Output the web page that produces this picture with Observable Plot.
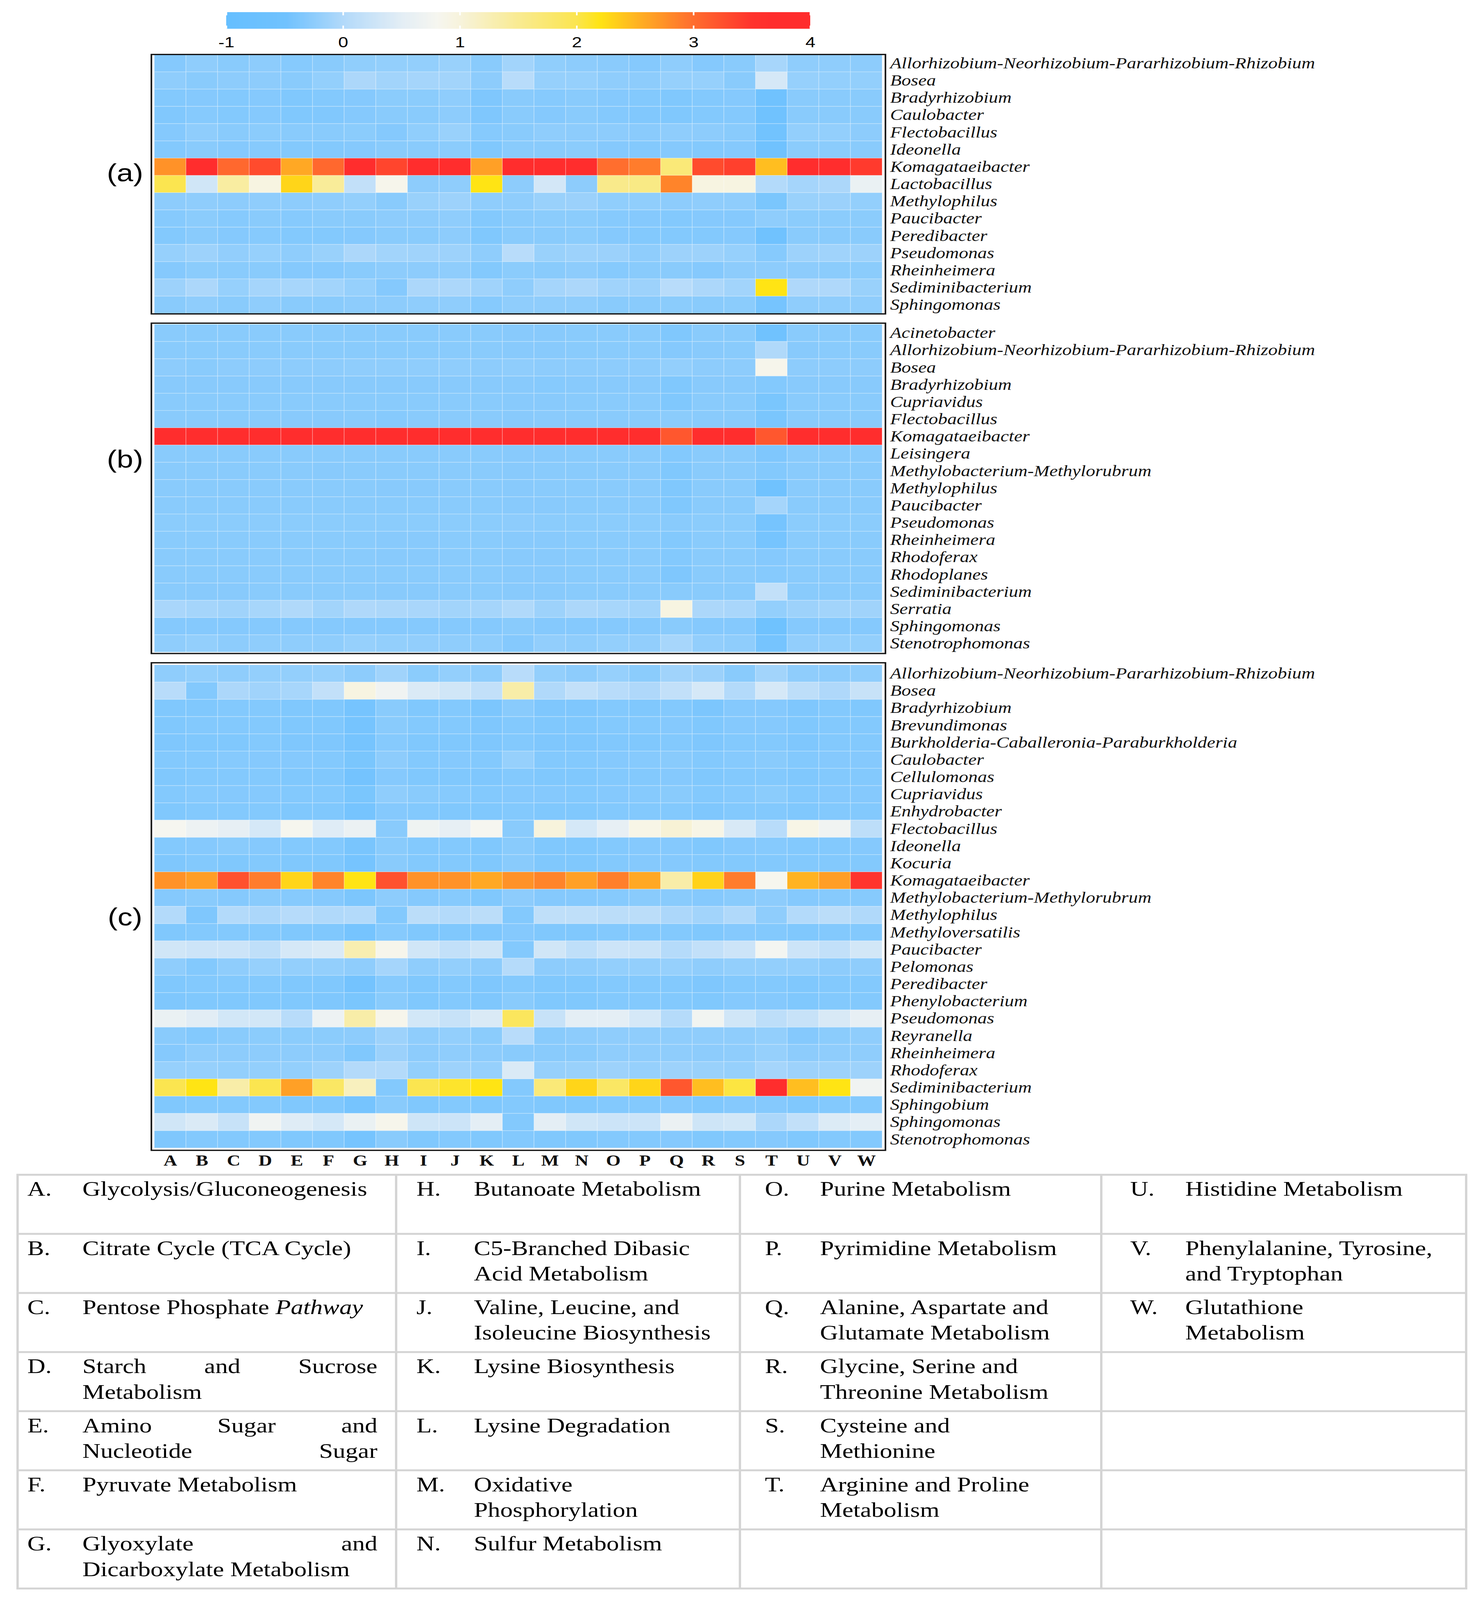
<!DOCTYPE html>
<html><head><meta charset="utf-8">
<script src="https://cdn.jsdelivr.net/npm/d3@7"></script>
<script src="https://cdn.jsdelivr.net/npm/@observablehq/plot@0.6"></script>
<style>
html,body{margin:0;padding:0;background:#fff;overflow:hidden;}
#page{position:relative;width:3791px;height:5008px;overflow:hidden;background:#fff;transform-origin:0 0;}
.abs{position:absolute;}
.panel-label{position:absolute;font-family:"Liberation Sans",Arial,sans-serif;font-size:76px;line-height:1;color:#000;transform:translate(-50%,-50%);white-space:nowrap;}
#cbar .tick line{stroke:#fff;stroke-width:4;stroke-dasharray:10 32 10 80;}
#panelC g[aria-label^="x-axis"] text{font-style:normal;font-weight:bold;font-size:48px;}
.tcell{position:absolute;box-sizing:border-box;border-top:6px solid #d4d4d4;border-left:6px solid #d4d4d4;font-family:"Liberation Serif","Times New Roman",serif;font-size:64px;line-height:80px;color:#000;}
.tletter{position:absolute;top:2px;white-space:nowrap;}
.ttext{position:absolute;top:2px;}
.tline{white-space:nowrap;}
.tjust{display:flex;justify-content:space-between;white-space:nowrap;}
</style>
</head><body><div id="page"></div>
<script>
// ---------------- data ----------------
const columns = ["A","B","C","D","E","F","G","H","I","J","K","L","M","N","O","P","Q","R","S","T","U","V","W"];
const legendTicks = [-1, 0, 1, 2, 3, 4];

const generaA = ["Allorhizobium-Neorhizobium-Pararhizobium-Rhizobium","Bosea","Bradyrhizobium","Caulobacter","Flectobacillus","Ideonella","Komagataeibacter","Lactobacillus","Methylophilus","Paucibacter","Peredibacter","Pseudomonas","Rheinheimera","Sediminibacterium","Sphingomonas"];
const valuesA = [
[-0.33,-0.25,-0.30,-0.27,-0.32,-0.30,-0.24,-0.22,-0.22,-0.18,-0.30,-0.12,-0.24,-0.27,-0.29,-0.33,-0.25,-0.33,-0.30,-0.08,-0.25,-0.25,-0.27],
[-0.25,-0.30,-0.27,-0.27,-0.30,-0.22,-0.05,-0.12,-0.10,-0.12,-0.27,0.05,-0.20,-0.20,-0.25,-0.27,-0.20,-0.20,-0.30,0.35,-0.20,-0.22,-0.22],
[-0.35,-0.33,-0.35,-0.33,-0.37,-0.35,-0.33,-0.28,-0.28,-0.25,-0.38,-0.30,-0.32,-0.30,-0.33,-0.35,-0.37,-0.35,-0.33,-0.50,-0.30,-0.30,-0.30],
[-0.36,-0.32,-0.35,-0.33,-0.37,-0.36,-0.33,-0.30,-0.30,-0.27,-0.38,-0.30,-0.33,-0.30,-0.34,-0.36,-0.37,-0.35,-0.34,-0.52,-0.30,-0.30,-0.30],
[-0.33,-0.25,-0.30,-0.28,-0.30,-0.30,-0.28,-0.33,-0.24,-0.18,-0.32,-0.30,-0.25,-0.27,-0.27,-0.29,-0.25,-0.27,-0.30,-0.48,-0.22,-0.22,-0.27],
[-0.35,-0.30,-0.33,-0.32,-0.35,-0.35,-0.33,-0.30,-0.30,-0.28,-0.37,-0.30,-0.30,-0.28,-0.33,-0.35,-0.33,-0.35,-0.33,-0.50,-0.28,-0.28,-0.30],
[2.75,3.70,3.05,3.30,2.60,3.05,3.70,3.35,3.70,3.70,2.65,3.70,3.70,3.70,3.00,2.90,1.70,3.30,3.40,2.45,3.70,3.70,3.45],
[2.00,0.30,1.40,0.95,2.30,1.45,0.15,0.85,-0.27,-0.25,2.20,-0.27,0.33,-0.27,1.55,1.60,2.85,0.95,0.95,0.00,-0.10,-0.05,0.60],
[-0.27,-0.25,-0.27,-0.25,-0.27,-0.25,-0.22,-0.30,-0.18,-0.15,-0.25,-0.25,-0.18,-0.17,-0.24,-0.24,-0.27,-0.25,-0.25,-0.42,-0.18,-0.17,-0.22],
[-0.32,-0.28,-0.32,-0.30,-0.32,-0.30,-0.30,-0.27,-0.27,-0.25,-0.35,-0.30,-0.28,-0.28,-0.32,-0.33,-0.35,-0.33,-0.33,-0.25,-0.28,-0.28,-0.28],
[-0.35,-0.30,-0.33,-0.32,-0.35,-0.35,-0.33,-0.30,-0.30,-0.27,-0.37,-0.30,-0.30,-0.28,-0.33,-0.35,-0.35,-0.35,-0.33,-0.52,-0.30,-0.30,-0.30],
[-0.20,-0.15,-0.23,-0.20,-0.25,-0.18,-0.05,-0.12,-0.13,-0.15,-0.25,0.05,-0.18,-0.15,-0.17,-0.25,-0.15,-0.15,-0.20,-0.32,-0.15,-0.13,-0.15],
[-0.33,-0.28,-0.30,-0.30,-0.33,-0.33,-0.30,-0.27,-0.27,-0.25,-0.35,-0.28,-0.30,-0.27,-0.32,-0.30,-0.30,-0.33,-0.27,-0.27,-0.27,-0.28,-0.28],
[-0.15,-0.05,-0.20,-0.10,-0.08,-0.12,-0.20,-0.33,-0.05,-0.05,-0.13,-0.25,-0.10,-0.05,-0.13,-0.15,0.05,-0.05,-0.12,2.20,-0.03,-0.03,-0.18],
[-0.30,-0.25,-0.30,-0.25,-0.30,-0.30,-0.27,-0.27,-0.25,-0.25,-0.32,-0.25,-0.25,-0.25,-0.30,-0.30,-0.28,-0.30,-0.28,-0.45,-0.25,-0.25,-0.25]
];

const generaB = ["Acinetobacter","Allorhizobium-Neorhizobium-Pararhizobium-Rhizobium","Bosea","Bradyrhizobium","Cupriavidus","Flectobacillus","Komagataeibacter","Leisingera","Methylobacterium-Methylorubrum","Methylophilus","Paucibacter","Pseudomonas","Rheinheimera","Rhodoferax","Rhodoplanes","Sediminibacterium","Serratia","Sphingomonas","Stenotrophomonas"];
const valuesB = [
[-0.30,-0.30,-0.30,-0.30,-0.30,-0.30,-0.30,-0.30,-0.30,-0.30,-0.30,-0.31,-0.31,-0.30,-0.30,-0.30,-0.37,-0.30,-0.30,-0.50,-0.30,-0.30,-0.30],
[-0.30,-0.30,-0.30,-0.30,-0.30,-0.30,-0.30,-0.30,-0.30,-0.30,-0.30,-0.31,-0.31,-0.30,-0.30,-0.30,-0.33,-0.31,-0.30,-0.02,-0.31,-0.30,-0.30],
[-0.27,-0.30,-0.27,-0.27,-0.27,-0.27,-0.25,-0.25,-0.25,-0.25,-0.27,-0.25,-0.27,-0.27,-0.27,-0.27,-0.22,-0.27,-0.27,0.85,-0.27,-0.27,-0.27],
[-0.31,-0.31,-0.31,-0.31,-0.31,-0.31,-0.31,-0.31,-0.31,-0.31,-0.31,-0.31,-0.32,-0.31,-0.31,-0.31,-0.37,-0.31,-0.31,-0.35,-0.31,-0.31,-0.31],
[-0.30,-0.30,-0.30,-0.30,-0.30,-0.30,-0.30,-0.30,-0.30,-0.30,-0.30,-0.31,-0.31,-0.30,-0.30,-0.30,-0.37,-0.30,-0.30,-0.42,-0.30,-0.30,-0.30],
[-0.30,-0.30,-0.30,-0.30,-0.31,-0.31,-0.30,-0.32,-0.30,-0.30,-0.30,-0.31,-0.29,-0.30,-0.30,-0.30,-0.28,-0.30,-0.30,-0.42,-0.30,-0.30,-0.30],
[3.70,3.70,3.70,3.70,3.70,3.70,3.70,3.70,3.70,3.70,3.70,3.70,3.70,3.70,3.70,3.70,3.20,3.70,3.70,3.20,3.70,3.70,3.70],
[-0.30,-0.30,-0.30,-0.30,-0.30,-0.30,-0.30,-0.30,-0.30,-0.30,-0.30,-0.31,-0.31,-0.30,-0.30,-0.30,-0.35,-0.30,-0.30,-0.38,-0.30,-0.30,-0.30],
[-0.30,-0.30,-0.30,-0.30,-0.30,-0.31,-0.30,-0.30,-0.30,-0.30,-0.30,-0.31,-0.30,-0.30,-0.30,-0.30,-0.37,-0.30,-0.30,-0.35,-0.30,-0.30,-0.30],
[-0.30,-0.30,-0.30,-0.30,-0.30,-0.30,-0.30,-0.31,-0.31,-0.30,-0.30,-0.31,-0.30,-0.30,-0.30,-0.30,-0.37,-0.30,-0.30,-0.50,-0.30,-0.30,-0.30],
[-0.30,-0.30,-0.30,-0.30,-0.30,-0.30,-0.30,-0.30,-0.30,-0.30,-0.30,-0.31,-0.31,-0.30,-0.30,-0.30,-0.37,-0.30,-0.30,-0.10,-0.30,-0.30,-0.30],
[-0.28,-0.28,-0.28,-0.28,-0.28,-0.28,-0.28,-0.28,-0.28,-0.28,-0.28,-0.27,-0.28,-0.28,-0.28,-0.28,-0.30,-0.28,-0.28,-0.45,-0.28,-0.28,-0.28],
[-0.30,-0.30,-0.30,-0.30,-0.30,-0.30,-0.30,-0.31,-0.31,-0.30,-0.30,-0.31,-0.31,-0.30,-0.30,-0.30,-0.35,-0.30,-0.30,-0.45,-0.30,-0.30,-0.30],
[-0.30,-0.30,-0.30,-0.30,-0.30,-0.30,-0.30,-0.31,-0.31,-0.30,-0.30,-0.31,-0.31,-0.30,-0.30,-0.30,-0.35,-0.30,-0.30,-0.33,-0.30,-0.30,-0.30],
[-0.30,-0.30,-0.30,-0.30,-0.30,-0.30,-0.30,-0.30,-0.30,-0.30,-0.30,-0.31,-0.31,-0.30,-0.30,-0.30,-0.38,-0.30,-0.30,-0.32,-0.30,-0.30,-0.30],
[-0.30,-0.31,-0.31,-0.30,-0.30,-0.30,-0.30,-0.31,-0.31,-0.30,-0.30,-0.31,-0.31,-0.30,-0.30,-0.30,-0.30,-0.30,-0.30,0.15,-0.30,-0.30,-0.30],
[-0.07,-0.10,-0.13,-0.08,-0.02,-0.12,-0.03,-0.05,-0.07,-0.12,-0.10,-0.02,-0.15,-0.05,-0.08,-0.12,0.95,-0.05,-0.07,-0.22,-0.15,-0.12,-0.13],
[-0.33,-0.33,-0.33,-0.33,-0.33,-0.33,-0.33,-0.33,-0.33,-0.33,-0.33,-0.30,-0.33,-0.33,-0.33,-0.33,-0.30,-0.33,-0.33,-0.55,-0.33,-0.33,-0.33],
[-0.25,-0.22,-0.27,-0.25,-0.25,-0.25,-0.20,-0.22,-0.23,-0.25,-0.25,-0.33,-0.23,-0.25,-0.22,-0.23,-0.08,-0.23,-0.25,-0.45,-0.23,-0.22,-0.22]
];

const generaC = ["Allorhizobium-Neorhizobium-Pararhizobium-Rhizobium","Bosea","Bradyrhizobium","Brevundimonas","Burkholderia-Caballeronia-Paraburkholderia","Caulobacter","Cellulomonas","Cupriavidus","Enhydrobacter","Flectobacillus","Ideonella","Kocuria","Komagataeibacter","Methylobacterium-Methylorubrum","Methylophilus","Methyloversatilis","Paucibacter","Pelomonas","Peredibacter","Phenylobacterium","Pseudomonas","Reyranella","Rheinheimera","Rhodoferax","Sediminibacterium","Sphingobium","Sphingomonas","Stenotrophomonas"];
const valuesC = [
[-0.25,-0.22,-0.25,-0.22,-0.22,-0.20,-0.27,-0.13,-0.28,-0.22,-0.25,0.05,-0.22,-0.27,-0.20,-0.28,-0.13,-0.17,-0.30,-0.12,-0.25,-0.27,-0.25],
[0.05,-0.35,-0.05,-0.13,-0.08,0.15,0.95,0.70,0.40,0.30,0.15,1.35,-0.02,0.15,0.05,-0.03,0.15,0.35,0.00,0.35,0.10,-0.03,0.20],
[-0.37,-0.37,-0.35,-0.35,-0.37,-0.37,-0.45,-0.30,-0.37,-0.35,-0.40,-0.30,-0.38,-0.38,-0.35,-0.37,-0.35,-0.40,-0.33,-0.33,-0.38,-0.35,-0.37],
[-0.37,-0.35,-0.35,-0.35,-0.37,-0.37,-0.45,-0.30,-0.35,-0.35,-0.38,-0.35,-0.37,-0.37,-0.35,-0.35,-0.33,-0.37,-0.33,-0.33,-0.37,-0.35,-0.35],
[-0.38,-0.37,-0.37,-0.35,-0.38,-0.38,-0.45,-0.32,-0.37,-0.37,-0.38,-0.35,-0.38,-0.38,-0.36,-0.37,-0.35,-0.38,-0.35,-0.35,-0.38,-0.35,-0.35],
[-0.35,-0.35,-0.32,-0.33,-0.33,-0.35,-0.42,-0.27,-0.35,-0.33,-0.35,-0.20,-0.35,-0.35,-0.33,-0.32,-0.30,-0.35,-0.32,-0.30,-0.35,-0.33,-0.33],
[-0.37,-0.35,-0.35,-0.35,-0.37,-0.37,-0.47,-0.33,-0.37,-0.37,-0.38,-0.35,-0.37,-0.37,-0.35,-0.35,-0.33,-0.37,-0.35,-0.35,-0.37,-0.35,-0.35],
[-0.35,-0.32,-0.33,-0.33,-0.35,-0.35,-0.42,-0.25,-0.30,-0.32,-0.35,-0.33,-0.33,-0.35,-0.33,-0.32,-0.30,-0.35,-0.32,-0.28,-0.35,-0.33,-0.33],
[-0.37,-0.35,-0.35,-0.35,-0.37,-0.37,-0.45,-0.33,-0.35,-0.37,-0.37,-0.35,-0.37,-0.37,-0.35,-0.35,-0.35,-0.38,-0.35,-0.35,-0.37,-0.35,-0.35],
[0.80,0.65,0.55,0.35,0.82,0.45,0.62,-0.30,0.68,0.55,0.80,-0.30,1.00,0.35,0.55,0.90,1.05,0.90,0.38,0.05,0.90,0.70,0.10],
[-0.35,-0.33,-0.30,-0.33,-0.35,-0.35,-0.43,-0.30,-0.35,-0.35,-0.37,-0.30,-0.37,-0.37,-0.35,-0.33,-0.33,-0.37,-0.33,-0.32,-0.35,-0.35,-0.33],
[-0.38,-0.35,-0.37,-0.35,-0.37,-0.37,-0.45,-0.30,-0.35,-0.35,-0.37,-0.30,-0.37,-0.37,-0.35,-0.33,-0.33,-0.35,-0.35,-0.35,-0.35,-0.35,-0.35],
[2.75,2.67,3.25,2.90,2.30,2.85,2.20,3.25,2.75,2.75,2.60,2.75,2.85,2.65,2.88,2.60,1.35,2.32,2.90,0.82,2.52,2.67,3.50],
[-0.33,-0.30,-0.33,-0.30,-0.32,-0.33,-0.40,-0.27,-0.33,-0.32,-0.37,-0.27,-0.33,-0.33,-0.32,-0.30,-0.30,-0.33,-0.30,-0.27,-0.33,-0.32,-0.32],
[0.00,-0.38,0.00,-0.05,0.03,-0.02,0.00,-0.35,0.08,0.00,0.08,-0.35,0.12,0.12,0.08,0.08,-0.05,-0.12,-0.02,-0.25,0.00,0.08,-0.02],
[-0.37,-0.35,-0.35,-0.35,-0.37,-0.37,-0.45,-0.32,-0.37,-0.37,-0.38,-0.33,-0.37,-0.37,-0.35,-0.35,-0.35,-0.37,-0.33,-0.35,-0.37,-0.35,-0.35],
[0.30,0.25,0.25,0.12,0.35,0.40,1.30,0.85,0.30,0.15,0.28,-0.35,0.30,0.12,0.25,0.22,0.02,0.15,0.25,0.75,0.25,0.15,0.32],
[-0.25,-0.35,-0.25,-0.20,-0.22,-0.22,-0.25,-0.10,-0.25,-0.22,-0.27,0.02,-0.27,-0.25,-0.22,-0.22,-0.20,-0.25,-0.22,-0.22,-0.22,-0.27,-0.25],
[-0.37,-0.35,-0.35,-0.35,-0.37,-0.37,-0.47,-0.32,-0.37,-0.35,-0.38,-0.35,-0.37,-0.37,-0.35,-0.35,-0.35,-0.38,-0.35,-0.35,-0.37,-0.35,-0.35],
[-0.38,-0.37,-0.37,-0.37,-0.37,-0.38,-0.42,-0.30,-0.37,-0.35,-0.38,-0.30,-0.37,-0.37,-0.35,-0.35,-0.35,-0.37,-0.33,-0.33,-0.37,-0.35,-0.35],
[0.60,0.48,0.32,0.32,0.05,0.65,1.35,0.85,0.32,0.20,0.40,1.90,0.20,0.50,0.50,0.35,0.02,0.72,0.30,0.10,0.20,0.38,0.55],
[-0.30,-0.35,-0.30,-0.28,-0.28,-0.28,-0.27,-0.15,-0.25,-0.22,-0.28,0.05,-0.30,-0.27,-0.25,-0.25,-0.25,-0.25,-0.25,-0.22,-0.33,-0.28,-0.25],
[-0.33,-0.25,-0.27,-0.27,-0.27,-0.27,-0.37,-0.17,-0.27,-0.25,-0.27,-0.30,-0.30,-0.30,-0.25,-0.25,-0.25,-0.27,-0.25,-0.20,-0.27,-0.25,-0.25],
[-0.20,-0.20,-0.22,-0.22,-0.22,-0.15,0.00,0.00,-0.22,-0.15,-0.20,0.40,-0.20,-0.18,-0.15,-0.20,-0.15,-0.18,-0.20,-0.10,-0.15,-0.15,-0.15],
[2.00,2.20,1.35,2.00,2.65,1.85,1.20,-0.35,2.00,2.12,2.20,-0.35,1.70,2.30,1.85,2.30,3.20,2.45,2.05,3.70,2.45,2.20,0.70],
[-0.37,-0.35,-0.35,-0.35,-0.37,-0.37,-0.45,-0.30,-0.37,-0.35,-0.37,-0.35,-0.37,-0.37,-0.35,-0.35,-0.33,-0.37,-0.33,-0.33,-0.37,-0.35,-0.35],
[0.30,0.40,0.20,0.70,0.45,0.35,0.60,0.85,0.28,0.25,0.50,-0.35,0.50,0.30,0.25,0.25,0.62,0.28,0.32,-0.05,0.15,0.42,0.50],
[-0.38,-0.35,-0.35,-0.35,-0.37,-0.37,-0.45,-0.30,-0.37,-0.35,-0.37,-0.35,-0.37,-0.37,-0.35,-0.35,-0.33,-0.37,-0.35,-0.33,-0.37,-0.35,-0.35]
];

// colour scale stops (value -> colour)
const stopValues = [-1, -0.5, -0.25, 0, 0.5, 0.8, 1.0, 1.5, 2.0, 2.2, 2.5, 3.0, 3.5, 3.7, 4];
const stopColors = ["#66bfff","#70c2fe","#8fcdfc","#b3dafa","#e4eef5","#f6f6f0","#f7f3dc","#f9eb92","#fbe550","#ffe414","#ffb622","#ff6e2e","#ff342d","#ff2d2d","#ff2d2d"];

const panelLabels = ["(a)", "(b)", "(c)"];

const pathwayNames = [
 "Glycolysis/Gluconeogenesis",
 "Citrate Cycle (TCA Cycle)",
 "Pentose Phosphate Pathway",
 "Starch and Sucrose\nMetabolism",
 "Amino Sugar and\nNucleotide Sugar",
 "Pyruvate Metabolism",
 "Glyoxylate and\nDicarboxylate Metabolism",
 "Butanoate Metabolism",
 "C5-Branched Dibasic\nAcid Metabolism",
 "Valine, Leucine, and\nIsoleucine Biosynthesis",
 "Lysine Biosynthesis",
 "Lysine Degradation",
 "Oxidative\nPhosphorylation",
 "Sulfur Metabolism",
 "Purine Metabolism",
 "Pyrimidine Metabolism",
 "Alanine, Aspartate and\nGlutamate Metabolism",
 "Glycine, Serine and\nThreonine Metabolism",
 "Cysteine and\nMethionine",
 "Arginine and Proline\nMetabolism",
 "Histidine Metabolism",
 "Phenylalanine, Tyrosine,\nand Tryptophan",
 "Glutathione\nMetabolism"
];
const tableColumns = [["A","B","C","D","E","F","G"],["H","I","J","K","L","M","N"],["O","P","Q","R","S","T"],["U","V","W"]];
const justifiedLines = {D: [0], E: [0, 1], G: [0]};
const italicWords = {C: ["Pathway"]};

// ---------------- drawing ----------------
const page = document.getElementById("page");
// the figure is laid out on a 3791 x 5008 sheet; if the window is shorter, the sheet is fitted to its height
const sheetH = 5008;
const fitY = Math.min(1, (window.innerHeight || sheetH) / sheetH);
page.style.transform = `scale(1, ${fitY})`;
document.body.style.height = Math.round(sheetH * fitY) + "px";

const ramp = d3.scaleLinear().domain(stopValues).range(stopColors).interpolate(d3.interpolateRgb).clamp(true);
const colorOpts = {type: "linear", domain: [-1, 4], interpolate: (t) => ramp(-1 + 5 * t)};

function place(el, left, top, id) {
  const d = document.createElement("div");
  d.className = "abs";
  d.style.left = left + "px"; d.style.top = top + "px";
  if (id) d.id = id;
  d.appendChild(el);
  page.appendChild(d);
  return d;
}

const legend = Plot.legend({
  color: colorOpts,
  width: 1575, height: 180,
  marginLeft: 40, marginRight: 40, marginTop: 38, marginBottom: 90,
  tickSize: 22,
  ticks: legendTicks,
  tickFormat: (d) => String(d),
  style: {fontFamily: "'Liberation Sans Narrow','Liberation Sans',Arial,sans-serif", fontSize: "46px", color: "#000", background: "transparent", overflow: "visible", maxWidth: "none"}
});
place(legend, 539, 0, "cbar");

function heatmap(genera, values, height, showX) {
  const data = genera.flatMap((g, i) => columns.map((c, j) => ({genus: g, pathway: c, value: values[i][j]})));
  return Plot.plot({
    width: 3791,
    height: height + (showX ? 80 : 0),
    marginLeft: 387, marginRight: 1525, marginTop: 0, marginBottom: showX ? 80 : 0,
    x: {domain: columns, padding: 0, axis: showX ? "bottom" : null, tickSize: 0, tickPadding: 14, label: null},
    y: {domain: genera, padding: 0, axis: "right", tickSize: 0, tickPadding: 12, label: null},
    color: colorOpts,
    style: {fontFamily: "'Liberation Serif','Times New Roman',serif", fontSize: "48px", fontStyle: "italic", color: "#111", background: "transparent", overflow: "visible", maxWidth: "none"},
    marks: [
      Plot.cell(data, {x: "pathway", y: "genus", fill: "value", stroke: "#ffffff", strokeOpacity: 0.28, strokeWidth: 2}),
      Plot.frame({stroke: "#111", strokeWidth: 4})
    ]
  });
}

place(heatmap(generaA, valuesA, 812, false), 0, 170, "panelA");
place(heatmap(generaB, valuesB, 1034, false), 0, 1011, "panelB");
place(heatmap(generaC, valuesC, 1526, true), 0, 2074, "panelC");

const labelPos = [[320, 541], [320, 1437], [320, 2870]];
panelLabels.forEach((t, i) => {
  const d = document.createElement("div");
  d.className = "panel-label";
  d.textContent = t;
  d.style.left = labelPos[i][0] + "px"; d.style.top = labelPos[i][1] + "px";
  page.appendChild(d);
});

const colX = [42, 1011, 1891, 2816, 3750];
const rowTop = 3674, rowH = 185, nRows = 7;
const letterOff = [28, 55, 67, 77];
const textOff = [169, 202, 208, 218];
const textW = [755, 660, 690, 690];
for (let r = 0; r < nRows; r++) {
  for (let c = 0; c < 4; c++) {
    const cell = document.createElement("div");
    cell.className = "tcell";
    cell.style.left = colX[c] + "px";
    cell.style.top = (rowTop + r * rowH) + "px";
    cell.style.width = (colX[c + 1] - colX[c] + (c === 3 ? 6 : 0)) + "px";
    cell.style.height = (rowH + (r === nRows - 1 ? 6 : 0)) + "px";
    if (c === 3) cell.style.borderRight = "6px solid #d4d4d4";
    if (r === nRows - 1) cell.style.borderBottom = "6px solid #d4d4d4";
    const code = tableColumns[c][r];
    if (code) {
      const name = pathwayNames[columns.indexOf(code)];
      const l = document.createElement("span");
      l.className = "tletter";
      l.textContent = code + ".";
      l.style.left = (letterOff[c] - 6) + "px";
      cell.appendChild(l);
      const tx = document.createElement("div");
      tx.className = "ttext";
      tx.style.left = (textOff[c] - 6) + "px";
      tx.style.width = textW[c] + "px";
      name.split("\n").forEach((line, li) => {
        const ld = document.createElement("div");
        const just = (justifiedLines[code] || []).includes(li);
        ld.className = just ? "tjust" : "tline";
        const words = line.split(" ");
        words.forEach((w, wi) => {
          const s = document.createElement("span");
          s.textContent = (just || wi === words.length - 1) ? w : w + " ";
          if ((italicWords[code] || []).includes(w)) s.style.fontStyle = "italic";
          ld.appendChild(s);
        });
        tx.appendChild(ld);
      });
      cell.appendChild(tx);
    }
    page.appendChild(cell);
  }
}
</script>
</body></html>
